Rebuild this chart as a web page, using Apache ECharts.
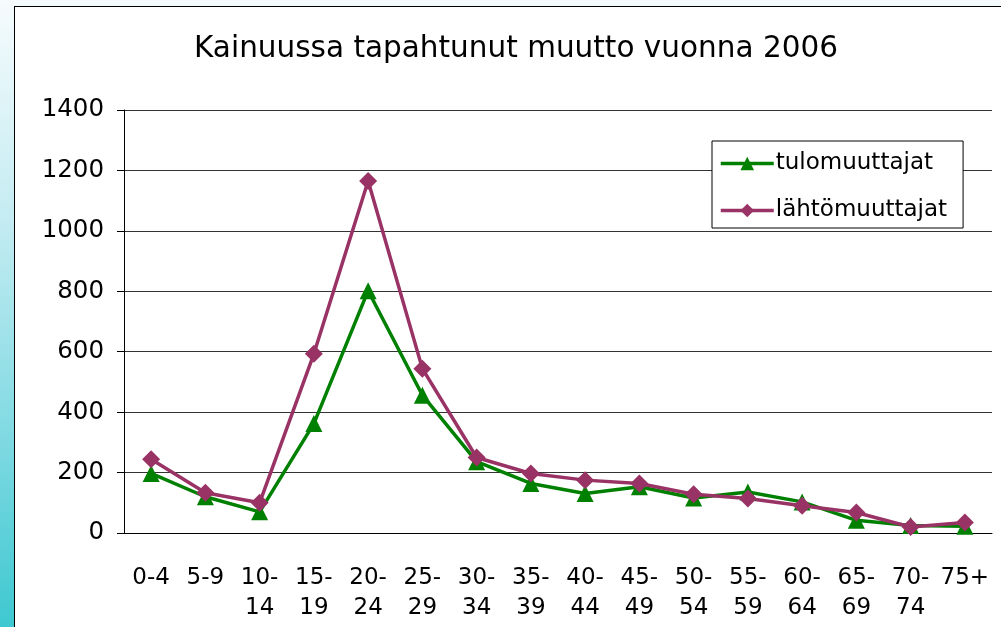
<!DOCTYPE html>
<html>
<head>
<meta charset="utf-8">
<script src="https://cdn.jsdelivr.net/npm/echarts@6/dist/echarts.min.js"></script>
<style>
  html, body { margin: 0; padding: 0; width: 1001px; height: 627px; overflow: hidden; }
  body { background: linear-gradient(to bottom, #f6fbfd 0%, #c4ecf2 35%, #7fd9e2 70%, #3ec8d0 100%); position: relative; }
  #panel { position: absolute; left: 14px; top: 6px; width: 1000px; height: 640px; background: #fff; border-left: 1px solid #000; border-top: 1px solid #000; }
  #main { position: absolute; left: 0; top: 0; width: 1001px; height: 627px; }
</style>
</head>
<body>
<div id="panel"></div>
<div id="main"></div>
<script>
// ikäryhmät
var ageGroups = ['0-4', '5-9', '10-\n14', '15-\n19', '20-\n24', '25-\n29', '30-\n34', '35-\n39',
  '40-\n44', '45-\n49', '50-\n54', '55-\n59', '60-\n64', '65-\n69', '70-\n74', '75+'];
// muuttajat
var tulomuuttajat = [197, 120, 70, 362, 802, 456, 236, 164, 131, 153, 116, 136, 103, 42, 25, 22];
var lahtomuuttajat = [244, 133, 100, 593, 1165, 544, 250, 197, 175, 164, 128, 114, 90, 68, 20, 35];
var yTicks = { min: 0, max: 1400, step: 200 };

var font = 'DejaVu Sans';
var myChart = echarts.init(document.getElementById('main'));
var option = {
  backgroundColor: 'transparent',
  animation: false,
  title: {
    text: 'Kainuussa tapahtunut muutto vuonna 2006',
    left: 511, top: 29, textAlign: 'center',
    textStyle: { fontFamily: font, fontSize: 29.5, fontWeight: 'normal', color: '#000' }
  },
  legend: {
    orient: 'vertical',
    left: 712, top: 141,
    padding: [11, 16, 6, 7],
    itemGap: 24,
    itemWidth: 53, itemHeight: 17,
    borderColor: '#000', borderWidth: 1,
    backgroundColor: '#fff',
    textStyle: { fontFamily: font, fontSize: 23, color: '#000', padding: [0, 0, 0, -3] },
    data: [
      { name: 'tulomuuttajat', lineStyle: { width: 3.5 } },
      { name: 'lähtömuuttajat', lineStyle: { width: 3.5 } }
    ]
  },
  grid: { left: 124, right: 9, top: 110, bottom: 94, containLabel: false },
  xAxis: {
    type: 'category',
    data: ageGroups,
    boundaryGap: true,
    axisLine: { lineStyle: { color: '#000', width: 1 } },
    axisTick: { alignWithLabel: false, length: 8, lineStyle: { color: '#000' } },
    axisLabel: { interval: 0, margin: 30, fontFamily: font, fontSize: 23, lineHeight: 30, color: '#000' },
    splitLine: { show: false }
  },
  yAxis: {
    type: 'value',
    min: yTicks.min, max: yTicks.max, interval: yTicks.step,
    axisLine: { show: true, lineStyle: { color: '#000', width: 1 } },
    axisTick: { show: true, length: 7, lineStyle: { color: '#000' } },
    axisLabel: { margin: 20, fontFamily: font, fontSize: 24.5, color: '#000', formatter: function (v) { return String(v); } },
    splitLine: { lineStyle: { color: '#333', width: 1 } }
  },
  series: [
    {
      name: 'tulomuuttajat',
      type: 'line',
      data: tulomuuttajat,
      symbol: 'triangle', symbolSize: 17,
      lineStyle: { color: '#008000', width: 3.5 },
      itemStyle: { color: '#008000' }
    },
    {
      name: 'lähtömuuttajat',
      type: 'line',
      data: lahtomuuttajat,
      symbol: 'diamond', symbolSize: 18,
      lineStyle: { color: '#993366', width: 3.5 },
      itemStyle: { color: '#993366' }
    }
  ]
};
myChart.setOption(option);
</script>
</body>
</html>
